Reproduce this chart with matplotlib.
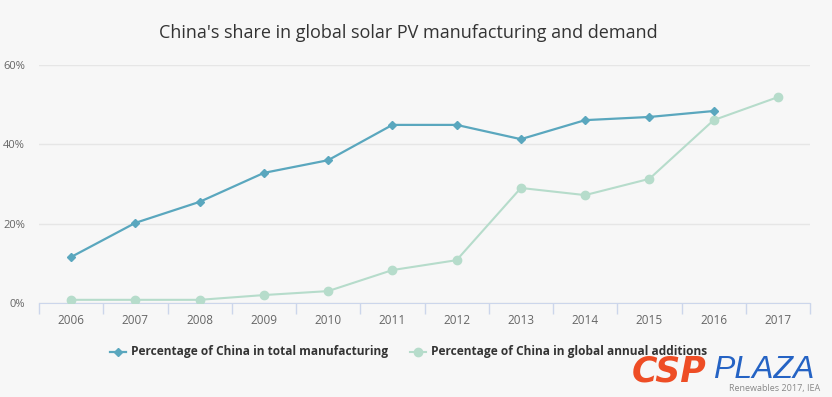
import matplotlib
matplotlib.use("Agg")
import matplotlib.pyplot as plt
import numpy as np

years = ["2006", "2007", "2008", "2009", "2010", "2011", "2012", "2013", "2014", "2015", "2016", "2017"]
manufacturing = [11.6, 20.2, 25.5, 32.8, 36.0, 44.9, 44.9, 41.3, 46.1, 46.9, 48.4, None]
additions = [0.8, 0.8, 0.8, 2.0, 3.0, 8.3, 10.8, 29.0, 27.2, 31.3, 46.1, 51.9]
yticks = [0, 20, 40, 60]
title = "China's share in global solar PV manufacturing and demand"
label_manu = "Percentage of China in total manufacturing"
label_add = "Percentage of China in global annual additions"

W, H = 832, 397
bg = "#f7f7f7"
blue = "#5aa7be"
green = "#b6dccb"

plt.rcParams['font.family'] = ['Open Sans', 'DejaVu Sans']
fig = plt.figure(figsize=(W / 100, H / 100), dpi=100, facecolor=bg)
ax = fig.add_axes([39 / W, 1 - 303 / H, (810 - 39) / W, (303 - 65) / H], facecolor=bg)

x = np.arange(len(years))
mx = [i for i, v in enumerate(manufacturing) if v is not None]
mv = [v for v in manufacturing if v is not None]
ax.plot(x, additions, color=green, lw=1.5, marker='o', ms=6, mec=green, mfc=green, zorder=3)
ax.plot(mx, mv, color=blue, lw=1.6, marker='D', ms=4.5, mec=blue, mfc=blue, zorder=4)

ax.set_xlim(-0.5, len(years) - 0.5)
ax.set_ylim(0, 60)
ax.set_yticks(yticks)
ax.set_yticklabels([f"{t}%" for t in yticks], fontsize=8, color="#666666")
ax.set_xticks(x)
ax.set_xticklabels(years, fontsize=8.5, color="#666666")
ax.tick_params(axis='x', which='major', length=0, pad=8)
ax.set_xticks(np.arange(-0.5, len(years), 1), minor=True)
ax.tick_params(axis='x', which='minor', length=8, color="#ccd6eb", width=1)
ax.tick_params(axis='y', length=0, pad=10)
ax.grid(axis='y', color="#e6e6e6", lw=1)
ax.set_axisbelow(True)
for s in ['top', 'right', 'left']:
    ax.spines[s].set_visible(False)
ax.spines['bottom'].set_color("#ccd6eb")

fig.text(408 / W, 1 - 33 / H, title, ha='center', va='center', fontsize=13, color="#333333")

# legend
ly = 1 - 352 / H
fig.add_artist(plt.Line2D([110 / W, 126 / W], [ly, ly], transform=fig.transFigure, color=blue, lw=1.6))
fig.add_artist(plt.Line2D([118 / W], [ly], transform=fig.transFigure, marker='D', ms=4.5, color=blue, lw=0))
fig.add_artist(plt.Line2D([410 / W, 426 / W], [ly, ly], transform=fig.transFigure, color=green, lw=1.5))
fig.add_artist(plt.Line2D([418 / W], [ly], transform=fig.transFigure, marker='o', ms=6, color=green, lw=0))
fig.text(131 / W, ly, label_manu, ha='left', va='center', fontsize=8.6, fontweight='bold', color="#333333")
fig.text(431 / W, ly, label_add, ha='left', va='center', fontsize=8.6, fontweight='bold', color="#333333")

# watermark / source
fig.text(632 / W, 1 - 371 / H, "CSP", ha='left', va='center', fontsize=25, fontweight='heavy',
         style='italic', color="#ee4d25", family=['DejaVu Sans'])
fig.text(713 / W, 1 - 370 / H, "PLAZA", ha='left', va='center', fontsize=23, style='italic',
         color="#2563c4", family=['Liberation Sans', 'DejaVu Sans'])
fig.text(820 / W, 1 - 389 / H, "Renewables 2017, IEA", ha='right', va='center', fontsize=6.5, color="#888888")

fig.savefig("out.png", dpi=100, facecolor=bg)
